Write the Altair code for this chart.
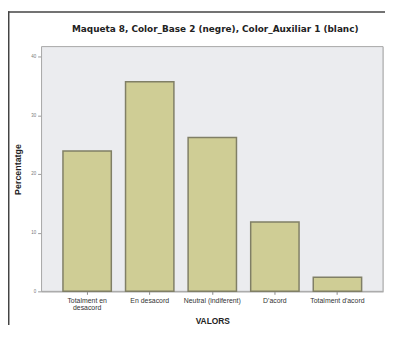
import altair as alt
import pandas as pd

categories = ["Totalment en desacord", "En desacord", "Neutral (indiferent)", "D'acord", "Totalment d'acord"]
percentages = [23.9, 35.7, 26.2, 11.8, 2.4]
y_ticks = [0, 10, 20, 30, 40]
chart_title = "Maqueta 8, Color_Base 2 (negre), Color_Auxiliar 1 (blanc)"

df = pd.DataFrame({"cat": categories, "pct": percentages})
one = pd.DataFrame({"t": [chart_title]})

W, H = 346, 248
PAD_B = 34

label_expr = ("datum.value == 'Totalment en desacord' ? ['Totalment en', 'desacord'] : datum.value")

background = alt.Chart(one).mark_rect(fill="#ebecef", stroke="#a8a8a8", strokeWidth=1).encode(
    x=alt.value(0), x2=alt.value(W), y=alt.value(0), y2=alt.value(H)
)

frame_left = alt.Chart(one).mark_rect(fill="#444444").encode(
    x=alt.value(-34), x2=alt.value(-32.5), y=alt.value(-35.75), y2=alt.value(H + PAD_B)
)
frame_top = alt.Chart(one).mark_rect(fill="#444444").encode(
    x=alt.value(-34), x2=alt.value(W + 2), y=alt.value(-35.75), y2=alt.value(-34.25)
)

title = alt.Chart(one).mark_text(
    font="DejaVu Sans", fontSize=9, fontWeight="bold", color="#222222",
    align="center", baseline="middle"
).encode(x=alt.value(W / 2 + 3), y=alt.value(-18), text="t:N")

bars = alt.Chart(df).mark_bar(
    fill="#cfcd95", stroke="#807f66", strokeWidth=1.5
).encode(
    x=alt.X("cat:N", sort=categories, title="VALORS",
            scale=alt.Scale(paddingInner=0.227, paddingOuter=0.342),
            axis=alt.Axis(labelAngle=0, labelFontSize=7, labelColor="#333333",
                          labelExpr=label_expr, labelLineHeight=7.5,
                          tickSize=3, tickColor="#888888", domainColor="#999999",
                          titleFontSize=8.5, titleFontWeight="bold", titleColor="#222222",
                          titlePadding=6, labelPadding=2)),
    y=alt.Y("pct:Q", title="Percentatge",
            scale=alt.Scale(domain=[0, 41.7], nice=False),
            axis=alt.Axis(values=y_ticks, labelFontSize=4.5, labelColor="#777777",
                          tickSize=4, tickColor="#999999", domainColor="#999999",
                          grid=False, titleFontSize=9, titleFontWeight="bold",
                          titleColor="#222222", titlePadding=8, labelPadding=2)),
)

chart = alt.layer(background, bars, frame_left, frame_top, title).properties(
    width=W, height=H,
    autosize=alt.AutoSizeParams(type="none"),
    padding={"left": 34, "top": 37, "right": 2, "bottom": PAD_B},
).configure_view(
    stroke=None
).configure_axis(
    labelFont="DejaVu Sans", titleFont="DejaVu Sans"
).configure(background="white")

chart.save("out.html", embed_options={"renderer": "svg", "actions": False})
